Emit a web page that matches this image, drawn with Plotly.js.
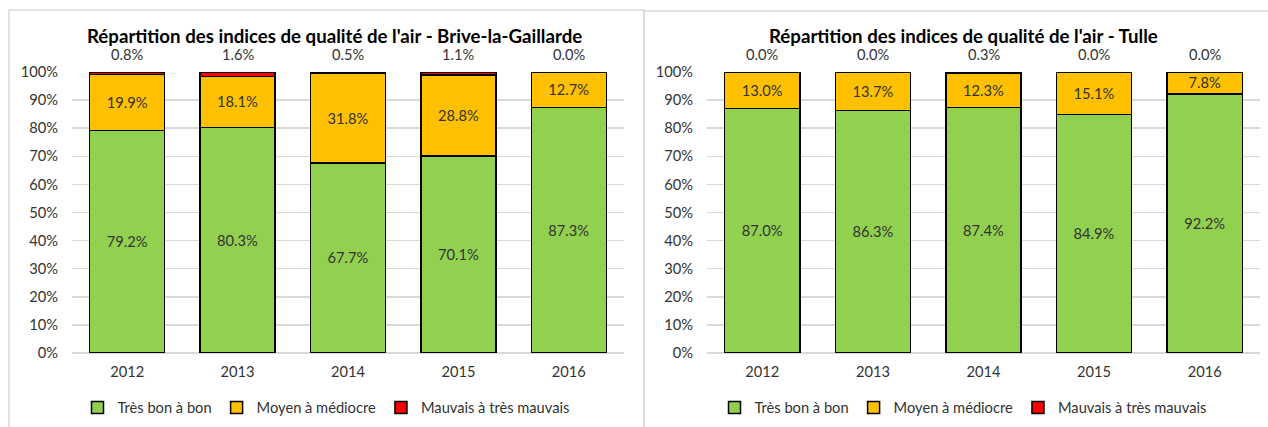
<!DOCTYPE html>
<html>
<head>
<meta charset="utf-8">
<script src="https://cdn.plot.ly/plotly-3.0.1.min.js"></script>
<style>html,body{margin:0;padding:0;background:#fff;}#chart{width:1268px;height:427px;}</style>
</head>
<body>
<div id="chart"></div>
<script>
const years = ['2012', '2013', '2014', '2015', '2016'];
const seriesNames = ['Très bon à bon', 'Moyen à médiocre', 'Mauvais à très mauvais'];
const titleBrive = "Répartition des indices de qualité de l'air - Brive-la-Gaillarde";
const titleTulle = "Répartition des indices de qualité de l'air - Tulle";
const briveGood = [79.2, 80.3, 67.7, 70.1, 87.3];
const briveMedium = [19.9, 18.1, 31.8, 28.8, 12.7];
const briveBad = [0.8, 1.6, 0.5, 1.1, 0.0];
const tulleGood = [87.0, 86.3, 87.4, 84.9, 92.2];
const tulleMedium = [13.0, 13.7, 12.3, 15.1, 7.8];
const tulleBad = [0.0, 0.0, 0.3, 0.0, 0.0];
const yTicks = [0, 10, 20, 30, 40, 50, 60, 70, 80, 90, 100];

const W = 1268, H = 427;
const FONT = 'Lato, "Open Sans", sans-serif';
const FS = 14.67;
const TXT = '#333333';
const colors = ['#92d050', '#ffc000', '#ff0000'];
const px = v => v / W;
const py = v => 1 - v / H;
const fmt = v => v.toFixed(1) + '%';

function barTrace(name, vals, color, xa, ya, legend, showText) {
  return {
    type: 'bar', name: name, x: years, y: vals, xaxis: xa, yaxis: ya, legend: legend,
    marker: {color: color, line: {color: '#000', width: 1.5}},
    text: showText ? vals.map(fmt) : undefined,
    textposition: showText ? 'inside' : 'none',
    insidetextanchor: 'middle',
    textfont: {family: FONT, size: FS, color: TXT},
    hoverinfo: 'x+y+name'
  };
}
function topLabels(vals, xa) {
  return vals.map((v, i) => ({
    text: fmt(v), xref: xa, x: i, yref: 'paper', y: py(54),
    xanchor: 'center', yanchor: 'middle', showarrow: false,
    font: {family: FONT, size: FS, color: TXT}
  }));
}

const data = [
  barTrace(seriesNames[0], briveGood, colors[0], 'x', 'y', 'legend', true),
  barTrace(seriesNames[1], briveMedium, colors[1], 'x', 'y', 'legend', true),
  barTrace(seriesNames[2], briveBad, colors[2], 'x', 'y', 'legend', false),
  barTrace(seriesNames[0], tulleGood, colors[0], 'x2', 'y2', 'legend2', true),
  barTrace(seriesNames[1], tulleMedium, colors[1], 'x2', 'y2', 'legend2', true),
  barTrace(seriesNames[2], tulleBad, colors[2], 'x2', 'y2', 'legend2', false)
];

const yDomain = [py(353), py(72)];
function yAxis(anchor) {
  return {
    domain: yDomain, anchor: anchor, range: [0, 100], tickvals: yTicks,
    ticktext: yTicks.map(v => v + '%'), showgrid: true, gridcolor: '#d9d9d9', gridwidth: 1.5,
    zeroline: true, zerolinecolor: '#d9d9d9', zerolinewidth: 1.5, showline: false,
    ticks: '', ticklabelstandoff: 13,
    tickfont: {family: FONT, size: FS, color: TXT}, fixedrange: true
  };
}
function xAxis(domain, anchor) {
  return {
    domain: domain, anchor: anchor, type: 'category', range: [-0.5, years.length - 0.5],
    showgrid: false, zeroline: false,
    showline: false, ticks: '', ticklabelstandoff: 8,
    tickfont: {family: FONT, size: FS, color: TXT}, fixedrange: true
  };
}
function legendCfg(cx) {
  return {
    orientation: 'h', x: px(cx), y: py(408), xanchor: 'center', yanchor: 'middle',
    font: {family: FONT, size: FS, color: TXT}, itemwidth: 30,
    bgcolor: 'rgba(0,0,0,0)', traceorder: 'normal'
  };
}

const layout = {
  width: W, height: H, margin: {l: 0, r: 0, t: 0, b: 0},
  paper_bgcolor: '#fff', plot_bgcolor: '#fff',
  barmode: 'stack', bargap: 0.32,
  uniformtext: {mode: 'show', minsize: FS},
  xaxis: xAxis([px(72), px(624)], 'y'),
  yaxis: yAxis('x'),
  xaxis2: xAxis([px(707), px(1260)], 'y2'),
  yaxis2: yAxis('x2'),
  legend: legendCfg(326),
  legend2: legendCfg(963),
  showlegend: true,
  annotations: [
    {text: '<b>' + titleBrive + '</b>', xref: 'paper', yref: 'paper', x: px(334), y: py(36),
     xanchor: 'center', yanchor: 'middle', showarrow: false, font: {family: FONT, size: 18.67, color: '#000'}},
    {text: '<b>' + titleTulle + '</b>', xref: 'paper', yref: 'paper', x: px(963), y: py(36),
     xanchor: 'center', yanchor: 'middle', showarrow: false, font: {family: FONT, size: 18.67, color: '#000'}}
  ].concat(topLabels(briveBad, 'x'), topLabels(tulleBad, 'x2')),
  shapes: [
    {type: 'rect', xref: 'paper', yref: 'paper', x0: px(9), x1: px(644), y0: py(440), y1: py(10),
     line: {color: '#d9d9d9', width: 1.5}, layer: 'below'},
    {type: 'rect', xref: 'paper', yref: 'paper', x0: px(644), x1: px(1280), y0: py(440), y1: py(11),
     line: {color: '#d9d9d9', width: 1.5}, layer: 'below'}
  ]
};

Plotly.newPlot('chart', data, layout, {displayModeBar: false, staticPlot: true});
</script>
</body>
</html>
